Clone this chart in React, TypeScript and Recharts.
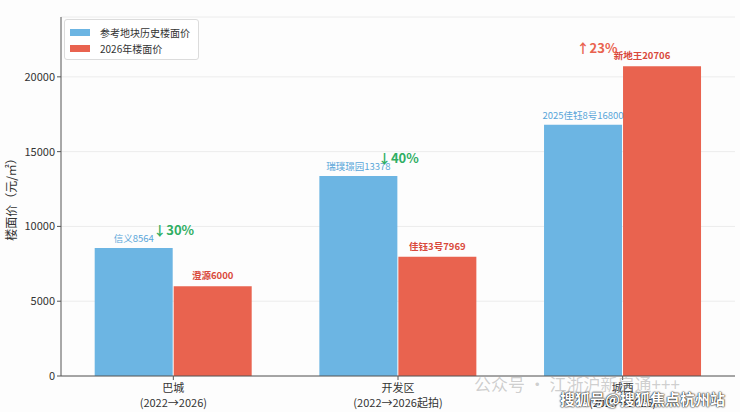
import { BarChart, Bar, XAxis, YAxis, CartesianGrid, LabelList } from "recharts";

const areas = ["巴城", "开发区", "城西"];
const periods = ["(2022→2026)", "(2022→2026起拍)", "(2025→2026)"];
const pastPrice = [8564, 13378, 16800];
const newPrice = [6000, 7969, 20706];
const pastName = ["信义", "瑞璞璟园", "2025佳钰8号"];
const newName = ["澄源", "佳钰3号", "新地王"];
const changes = ["↓30%", "↓40%", "↑23%"];
const yTicks = [0, 5000, 10000, 15000, 20000];

const BLUE = "#6cb5e3";
const RED = "#e9634f";
const FONT = "'Noto Sans CJK SC', 'Noto Sans', sans-serif";

const data = areas.map((a, i) => ({
  area: a,
  period: periods[i],
  past: pastPrice[i],
  now: newPrice[i],
  pastLabel: pastName[i] + pastPrice[i],
  nowLabel: newName[i] + newPrice[i],
  change: changes[i],
}));

const AreaTick = (props: any) => {
  const { x, y, payload, index } = props;
  return (
    <g transform={`translate(${x},${y})`}>
      <text textAnchor="middle" fontSize={11} fill="#333" fontFamily={FONT}>
        <tspan x={0} dy={10}>{payload.value}</tspan>
        <tspan x={0} dy={15}>{periods[index]}</tspan>
      </text>
    </g>
  );
};

// percent change sits above the taller bar of each group
const ChangeLabel = (props: any) => {
  const { x, y, height, index } = props;
  const v = newPrice[index];
  const ppu = height / v;
  const base = y + height;
  const top = Math.max(pastPrice[index], newPrice[index]);
  const cy = base - (top + 1100) * ppu;
  const dx = index === 2 ? -26 : 0;
  const up = changes[index].startsWith("↑");
  return (
    <text
      x={x + dx}
      y={cy}
      textAnchor="middle"
      dominantBaseline="middle"
      fontSize={13}
      fontWeight="bold"
      fill={up ? "#e9634f" : "#2fae63"}
      fontFamily={FONT}
    >
      {changes[index]}
    </text>
  );
};

const NowLabel = (props: any) => {
  const { x, y, width, index } = props;
  const dx = index === 2 ? -20 : 0;
  return (
    <text x={x + width / 2 + dx} y={y - 7} textAnchor="middle" fontSize={9.5} fontWeight="bold" fill="#d9493b" fontFamily={FONT}>
      {data[index].nowLabel}
    </text>
  );
};

const PastLabel = (props: any) => {
  const { x, y, width, index } = props;
  return (
    <text x={x + width / 2} y={y - 6} textAnchor="middle" fontSize={9.5} fill="#5aa6d9" fontFamily={FONT}>
      {data[index].pastLabel}
    </text>
  );
};

export default function App() {
  return (
    <div style={{ position: "absolute", left: 0, top: 0, width: 740, height: 412, background: "#fdfdfd", fontFamily: FONT }}>
      <BarChart
        width={740}
        height={412}
        data={data}
        margin={{ top: 17, right: 5, bottom: 6, left: 0 }}
        barCategoryGap="15%"
        barGap={1}
      >
        <CartesianGrid vertical={false} stroke="#ececec" />
        <XAxis
          dataKey="area"
          height={30}
          tick={<AreaTick />}
          tickLine={{ stroke: "#555" }}
          axisLine={{ stroke: "#555" }}
          tickSize={4}
          interval={0}
        />
        <YAxis
          width={61}
          domain={[0, 24000]}
          ticks={yTicks}
          tick={{ fontSize: 11, fill: "#333", fontFamily: FONT }}
          tickLine={{ stroke: "#555" }}
          axisLine={{ stroke: "#555" }}
          tickSize={4}
          label={{
            value: "楼面价（元/㎡）",
            angle: -90,
            position: "insideLeft",
            offset: 12,
            style: { textAnchor: "middle", fontSize: 12, fill: "#333", fontFamily: FONT },
          }}
        />
        <Bar dataKey="past" fill={BLUE} isAnimationActive={false}>
          <LabelList dataKey="pastLabel" content={<PastLabel />} />
        </Bar>
        <Bar dataKey="now" fill={RED} isAnimationActive={false}>
          <LabelList dataKey="nowLabel" content={<NowLabel />} />
          <LabelList dataKey="change" content={<ChangeLabel />} />
        </Bar>
      </BarChart>
      <div
        style={{
          position: "absolute",
          left: 64,
          top: 19,
          width: 135,
          height: 41,
          border: "1px solid #dcdcdc",
          borderRadius: 3,
          background: "#fff",
          fontSize: 10,
          color: "#333",
          boxSizing: "border-box",
          padding: "4px 0 0 5px",
        }}
      >
        {[
          { c: BLUE, t: "参考地块历史楼面价" },
          { c: RED, t: "2026年楼面价" },
        ].map((l) => (
          <div key={l.t} style={{ display: "flex", alignItems: "center", height: 16 }}>
            <span style={{ display: "inline-block", width: 20, height: 7, background: l.c, marginRight: 10 }} />
            {l.t}
          </div>
        ))}
      </div>
      <div style={{ position: "absolute", left: 474, top: 371, fontSize: 17, color: "rgba(150,150,150,0.45)" }}>
        公众号 · 江浙沪新房通+++
      </div>
      <div
        style={{
          position: "absolute",
          left: 560,
          top: 388,
          fontSize: 15,
          fontWeight: "bold",
          color: "#fff",
          textShadow: "0 0 2px #000, 0 0 1px #000",
        }}
      >
        搜狐号@搜狐焦点杭州站
      </div>
    </div>
  );
}
